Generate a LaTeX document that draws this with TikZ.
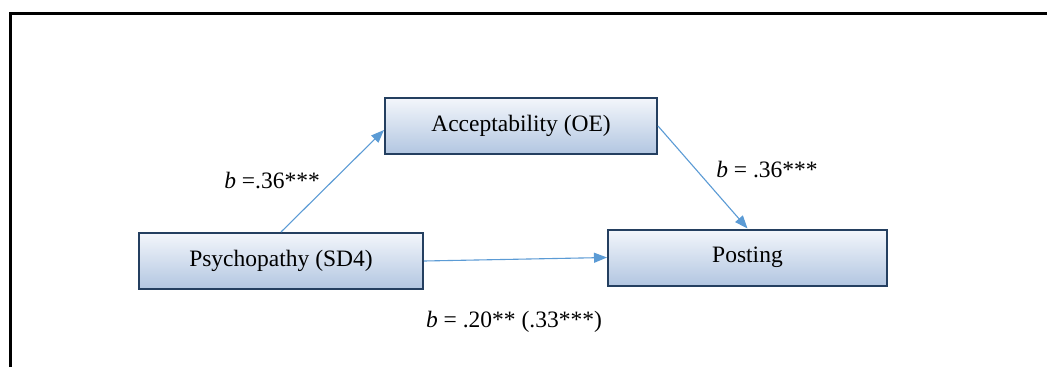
\documentclass[tikz,border=0pt]{standalone}
\usepackage{fontspec}
\setmainfont{Liberation Serif}
\usetikzlibrary{arrows.meta}
\definecolor{boxborder}{HTML}{243F60}
\definecolor{boxtop}{HTML}{F3F6FB}
\definecolor{boxbot}{HTML}{B2C6E1}
\definecolor{arrowblue}{HTML}{5B9BD5}
\tikzset{
  varbox/.style={draw=boxborder, line width=2pt, top color=boxtop, bottom color=boxbot,
    minimum width=#1, minimum height=56pt, inner sep=0pt, font=\fontsize{23.5}{26}\selectfont},
  path/.style={draw=arrowblue, line width=1.1pt, -{Triangle[length=13pt,width=10pt]}},
  lbl/.style={font=\fontsize{23.5}{26}\selectfont, inner sep=0pt}
}
\begin{document}
\begin{tikzpicture}[x=1pt,y=1pt]
\useasboundingbox (0,0) rectangle (1047,-367);
\fill[white] (0,0) rectangle (1047,-367);
\draw[line width=3pt, black] (10,-367) -- (10,-13) -- (1047,-13);
\node[varbox=272pt] (a) at (521,-126) {Acceptability (OE)};
\node[varbox=284pt] (p) at (281,-261) {Psychopathy (SD4)};
\node[varbox=279pt] (o) at (747.5,-257.5) {Posting};
\path[path] (p.north) -- ([yshift=-4pt]a.west);
\path[path] (a.east) -- (o.north);
\path[path] (p.east) -- (o.west);
\node[lbl] (l1) at (272,-181) {\textit{b} =.36***};
\node[lbl] (l2) at (767,-170) {\textit{b} = .36***};
\node[lbl] (l3) at (514,-322) {\textit{b} = .20** (.33***)};
\end{tikzpicture}
\end{document}
